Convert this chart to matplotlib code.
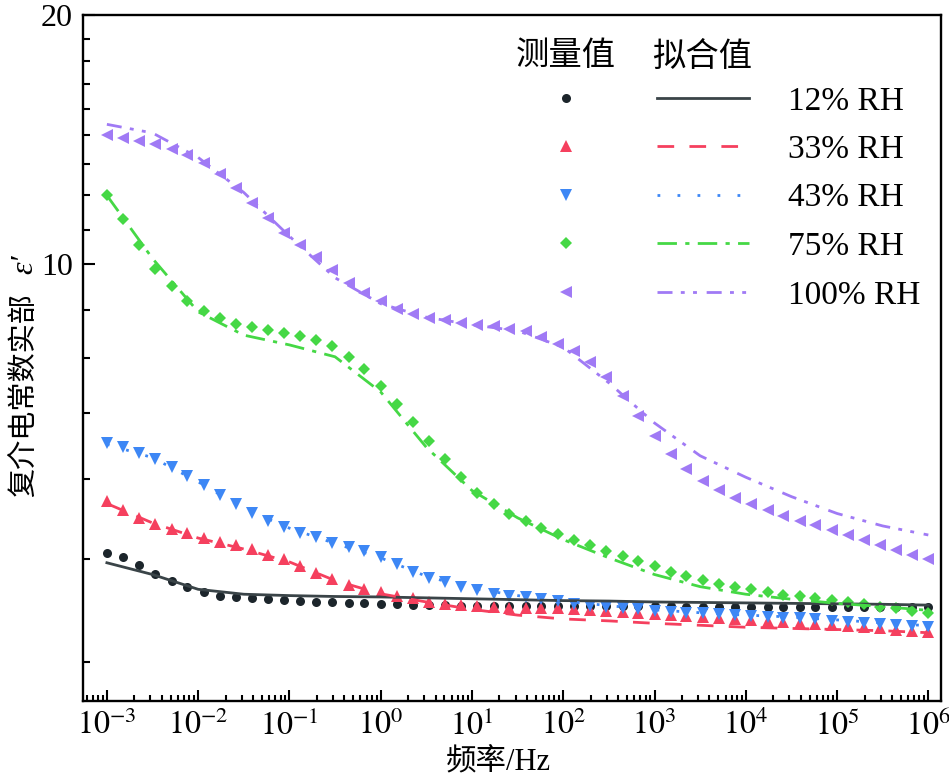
import numpy as np
import matplotlib
matplotlib.use("Agg")
import matplotlib.pyplot as plt
from matplotlib.ticker import FixedLocator, NullFormatter, LogLocator, FixedFormatter

plt.rcParams['font.family'] = ['Liberation Serif', 'Noto Sans CJK SC']
plt.rcParams['mathtext.fontset'] = 'stix'

# measurement frequencies: exponents of 10 (Hz)
freq_exp = [-3.00, -2.82, -2.65, -2.47, -2.29, -2.12, -1.94, -1.76, -1.59, -1.41,
            -1.24, -1.06, -0.88, -0.71, -0.53, -0.35, -0.18, 0.00, 0.18, 0.35,
            0.53, 0.71, 0.88, 1.06, 1.24, 1.41, 1.59, 1.76, 1.94, 2.12,
            2.29, 2.47, 2.65, 2.82, 3.00, 3.18, 3.35, 3.53, 3.71, 3.88,
            4.06, 4.24, 4.41, 4.59, 4.76, 4.94, 5.12, 5.29, 5.47, 5.65,
            5.82, 6.00]

# measured values (real part of complex permittivity)
meas_12 = [4.47, 4.42, 4.32, 4.22, 4.13, 4.07, 4.01, 3.97, 3.95, 3.94,
           3.93, 3.92, 3.91, 3.90, 3.90, 3.89, 3.89, 3.88, 3.88, 3.87,
           3.87, 3.87, 3.86, 3.86, 3.86, 3.86, 3.86, 3.86, 3.86, 3.86,
           3.86, 3.86, 3.86, 3.86, 3.86, 3.86, 3.85, 3.85, 3.85, 3.85,
           3.85, 3.85, 3.85, 3.85, 3.85, 3.85, 3.85, 3.85, 3.85, 3.85,
           3.85, 3.85]
meas_33 = [5.16, 5.04, 4.93, 4.85, 4.78, 4.72, 4.66, 4.61, 4.57, 4.52,
           4.45, 4.39, 4.31, 4.23, 4.16, 4.09, 4.04, 4.01, 3.97, 3.94,
           3.90, 3.88, 3.87, 3.86, 3.85, 3.84, 3.84, 3.84, 3.83, 3.82,
           3.81, 3.80, 3.79, 3.78, 3.77, 3.76, 3.75, 3.74, 3.73, 3.72,
           3.71, 3.70, 3.69, 3.68, 3.67, 3.66, 3.65, 3.64, 3.63, 3.61,
           3.60, 3.585]
meas_43 = [6.07, 6.01, 5.91, 5.81, 5.68, 5.54, 5.40, 5.25, 5.12, 4.99,
           4.89, 4.81, 4.73, 4.67, 4.60, 4.55, 4.49, 4.42, 4.33, 4.24,
           4.17, 4.12, 4.07, 4.03, 3.99, 3.97, 3.95, 3.93, 3.91, 3.88,
           3.86, 3.85, 3.83, 3.82, 3.80, 3.79, 3.78, 3.78, 3.77, 3.76,
           3.75, 3.74, 3.73, 3.73, 3.72, 3.70, 3.69, 3.68, 3.67, 3.66,
           3.65, 3.64]
meas_75 = [12.11, 11.34, 10.54, 9.87, 9.39, 9.01, 8.76, 8.60, 8.47, 8.38,
           8.32, 8.26, 8.18, 8.10, 7.95, 7.72, 7.46, 7.12, 6.76, 6.43,
           6.11, 5.80, 5.53, 5.28, 5.12, 4.98, 4.88, 4.79, 4.71, 4.64,
           4.57, 4.50, 4.43, 4.37, 4.31, 4.24, 4.19, 4.15, 4.10, 4.07,
           4.04, 4.01, 3.98, 3.96, 3.94, 3.92, 3.90, 3.88, 3.85, 3.83,
           3.80, 3.78]
meas_100 = [14.31, 14.20, 14.07, 13.97, 13.78, 13.56, 13.25, 12.83, 12.34, 11.86,
            11.37, 10.91, 10.54, 10.18, 9.83, 9.49, 9.23, 9.01, 8.83, 8.69,
            8.61, 8.55, 8.49, 8.44, 8.40, 8.34, 8.29, 8.16, 8.01, 7.85,
            7.60, 7.29, 6.93, 6.55, 6.20, 5.89, 5.65, 5.47, 5.33, 5.21,
            5.13, 5.04, 4.96, 4.89, 4.83, 4.76, 4.70, 4.63, 4.57, 4.51,
            4.45, 4.40]

# fitted curves, sampled every half decade
fit_exp = [-3.0, -2.5, -2.0, -1.5, -1.0, -0.5, 0.0, 0.5, 1.0, 1.5,
           2.0, 2.5, 3.0, 3.5, 4.0, 4.5, 5.0, 5.5, 6.0]
fit_12 = [4.35, 4.21, 4.04, 3.985, 3.97, 3.96, 3.955, 3.945, 3.935, 3.925,
          3.915, 3.91, 3.90, 3.895, 3.89, 3.885, 3.88, 3.875, 3.866]
fit_33 = [5.13, 4.86, 4.66, 4.52, 4.36, 4.14, 3.99, 3.90, 3.82, 3.76,
          3.72, 3.70, 3.675, 3.655, 3.635, 3.623, 3.612, 3.60, 3.58]
fit_43 = [6.05, 5.83, 5.45, 5.06, 4.79, 4.59, 4.41, 4.19, 4.05, 3.97,
          3.91, 3.86, 3.815, 3.785, 3.76, 3.74, 3.71, 3.68, 3.65]
fit_75 = [12.1, 10.15, 8.75, 8.2, 7.98, 7.72, 7.0, 6.0, 5.32, 4.93,
          4.64, 4.41, 4.21, 4.07, 3.985, 3.93, 3.885, 3.85, 3.81]
fit_100 = [14.75, 14.4, 13.45, 12.2, 10.8, 9.62, 8.95, 8.62, 8.44, 8.3,
           7.93, 7.18, 6.42, 5.86, 5.52, 5.23, 4.99, 4.82, 4.70]

labels = ['12% RH', '33% RH', '43% RH', '75% RH', '100% RH']
x_tick_exp = [-3, -2, -1, 0, 1, 2, 3, 4, 5, 6]
meas = [meas_12, meas_33, meas_43, meas_75, meas_100]
fits = [fit_12, fit_33, fit_43, fit_75, fit_100]
marker_colors = ['#1c252b', '#f5405e', '#3d87f5', '#45d845', '#a07af5']
line_colors = ['#3a4448', '#f5405e', '#3d87f5', '#45d845', '#a07af5']
markers = ['o', '^', 'v', 'D', '<']
msizes = [6.5, 8, 8, 6, 8]
styles = ['-', (0, (6, 5.5)), (0, (1, 6.2)), (0, (7, 3, 1.5, 3)),
          (0, (5.4, 3, 1.4, 3, 1.4, 3.5))]

fig = plt.figure(figsize=(9.49, 7.84), dpi=100)
ax = fig.add_axes([82.7 / 949, 1 - 701 / 784, (941 - 82.7) / 949, (701 - 15) / 784])

f_meas = 10.0 ** np.array(freq_exp)
f_fit = 10.0 ** np.array(fit_exp)

mk_handles = []
ln_handles = []
for m, c, mk, ms in zip(meas, marker_colors, markers, msizes):
    h, = ax.plot(f_meas, m, linestyle='none', marker=mk, ms=ms, color=c,
                 markeredgewidth=0, zorder=3)
    mk_handles.append(h)
for ft, c, ls in zip(fits, line_colors, styles):
    h, = ax.plot(f_fit, ft, linestyle=ls, color=c, lw=2.0, zorder=4)
    ln_handles.append(h)

ax.set_xscale('log')
ax.set_yscale('log')
ax.set_xlim(10 ** -3.265, 10 ** 6.139)
ax.set_ylim(2.96, 20)

ax.xaxis.set_major_locator(FixedLocator([10.0 ** e for e in x_tick_exp]))
ax.xaxis.set_major_formatter(FixedFormatter(['$10^{%d}$' % e for e in x_tick_exp]))
ax.xaxis.set_minor_locator(LogLocator(base=10, subs=np.arange(2, 10), numticks=200))
ax.xaxis.set_minor_formatter(NullFormatter())

ax.yaxis.set_major_locator(FixedLocator([10, 20]))
ax.yaxis.set_major_formatter(FixedFormatter(['10', '20']))
ax.yaxis.set_minor_locator(FixedLocator([3.3, 4.4, 5.5, 6.6, 7.7, 8.8, 11, 12.1, 13.2,
                                         14.3, 15.4, 16.5, 17.6, 18.7]))
ax.yaxis.set_minor_formatter(NullFormatter())

for s in ax.spines.values():
    s.set_linewidth(1.7)
ax.tick_params(which='both', direction='in', top=False, right=False, width=1.5)
ax.tick_params(axis='x', which='major', length=8, pad=7, labelsize=23)
ax.tick_params(axis='x', which='minor', length=4.3)
ax.tick_params(axis='y', which='major', length=8.6, pad=7, labelsize=23)
ax.tick_params(axis='y', which='minor', length=5)

leg = ax.legend(handles=mk_handles + ln_handles, labels=[''] * 5 + labels,
                ncol=2, loc='upper left', bbox_to_anchor=(520.4 / 949, 1 - 86 / 784),
                bbox_transform=fig.transFigure, frameon=False, fontsize=24,
                handlelength=2.75, handletextpad=1.17, columnspacing=0.18,
                labelspacing=0.54, borderpad=0, borderaxespad=0)

cjk = ['Noto Sans CJK SC', 'DejaVu Sans']
fig.text(566 / 949, 1 - 56 / 784, '测量值', ha='center', va='center', fontsize=24, family=cjk)
fig.text(702 / 949, 1 - 56 / 784, '拟合值', ha='center', va='center', fontsize=24, family=cjk)
fig.text(24 / 949, 1 - 395 / 784, '复介电常数实部', rotation=90,
         ha='center', va='center', fontsize=21, family=cjk)
fig.text(25 / 949, 1 - 264 / 784, 'ε′', rotation=90, ha='center', va='center',
         fontsize=23, family=['Liberation Serif', 'DejaVu Serif'], style='italic')
fig.text(498 / 949, 1 - 763 / 784, '频率/Hz', ha='center', va='center', fontsize=22)

fig.savefig('out.png', dpi=100)
